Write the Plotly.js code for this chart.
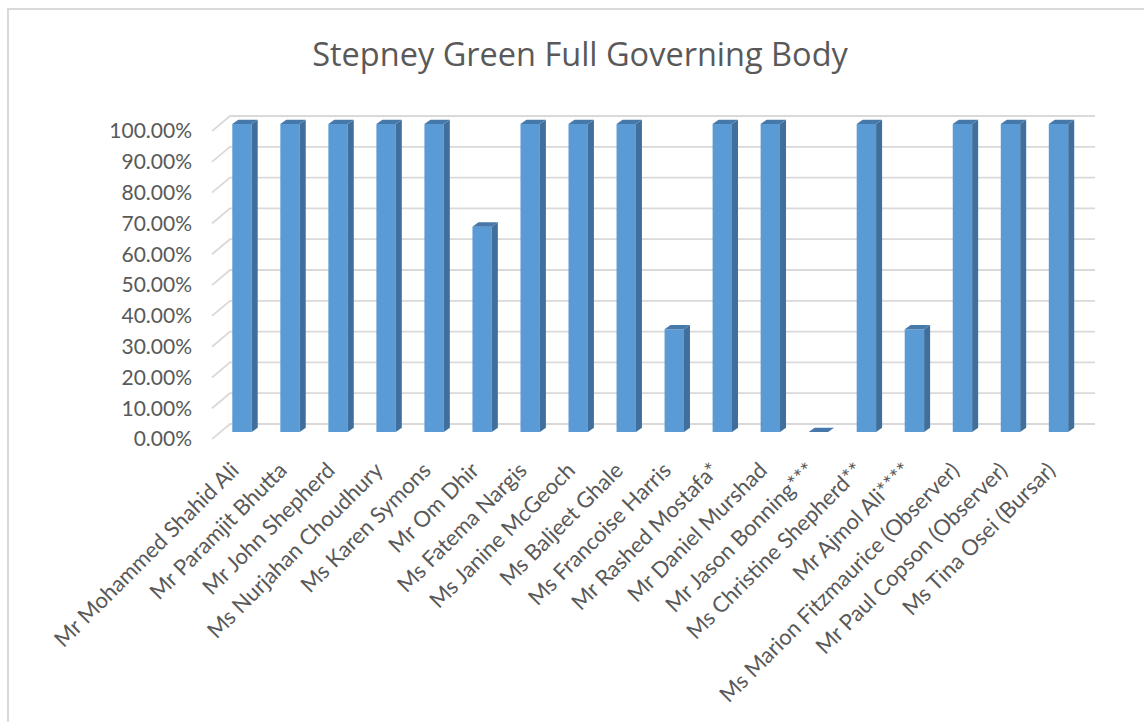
<!DOCTYPE html>
<html>
<head>
<meta charset="utf-8">
<script src="https://cdn.plot.ly/plotly-3.0.1.min.js"></script>
<style>
  html, body { margin: 0; padding: 0; background: #ffffff; }
  #chart { width: 1144px; height: 722px; }
  #frame { position: absolute; left: 7px; top: 8px; width: 2000px; height: 2000px;
           border: 2px solid #D9D9D9; pointer-events: none; }
</style>
</head>
<body>
<div id="chart"></div>
<div id="frame"></div>
<script>
// ---- data ----
const categories = [
  "Mr Mohammed Shahid Ali", "Mr Paramjit Bhutta", "Mr John Shepherd",
  "Ms Nurjahan Choudhury", "Ms Karen Symons", "Mr Om Dhir",
  "Ms Fatema Nargis", "Ms Janine McGeoch", "Ms Baljeet Ghale",
  "Ms Francoise Harris", "Mr Rashed Mostafa*", "Mr Daniel Murshad",
  "Mr Jason Bonning***", "Ms Christine Shepherd**", "Mr Ajmol Ali****",
  "Ms Marion Fitzmaurice (Observer)", "Mr Paul Copson (Observer)", "Ms Tina Osei (Bursar)"
];
const attendance = [100, 100, 100, 100, 100, 66.67, 100, 100, 100, 33.33,
                    100, 100, 0, 100, 33.33, 100, 100, 100];
const yTickValues = [0, 10, 20, 30, 40, 50, 60, 70, 80, 90, 100];
const yTickLabels = ["0.00%", "10.00%", "20.00%", "30.00%", "40.00%", "50.00%",
                     "60.00%", "70.00%", "80.00%", "90.00%", "100.00%"];

// ---- 3D look (in axis units) ----
const BAR_W = 0.404, DEPTH_X = 0.125, DEPTH_Y = 1.4;
const BACK_DY = 2.6, BACK_X0 = -0.25, BACK_X1 = 17.76, FRONT_X = -0.625, LABEL_DY = -2.3;
const XLABEL_SHIFT = -0.2;
const XR = [-0.9786, 17.864], YR = [-6.49, 107.79];

const idx = categories.map((_, i) => i);
const FONT = "Lato, 'Open Sans', sans-serif";
const TITLE_FONT = "'Open Sans', Lato, sans-serif";
const GRAY = "#595959";

// back-wall gridlines + left floor slants
const gx = [], gy = [];
yTickValues.forEach(t => {
  gx.push(FRONT_X, BACK_X0, BACK_X1, null);
  gy.push(t + LABEL_DY, t + BACK_DY, t + BACK_DY, null);
});

// side and top faces
const sx = [], sy = [], tx = [], ty = [];
attendance.forEach((v, i) => {
  const r = i + BAR_W / 2, l = i - BAR_W / 2;
  if (v > 0) {
    sx.push(r, r, r + DEPTH_X, r + DEPTH_X, r, null);
    sy.push(0, v, v + DEPTH_Y, DEPTH_Y, 0, null);
  }
  tx.push(l, r, r + DEPTH_X, l + DEPTH_X, l, null);
  ty.push(v, v, v + DEPTH_Y, v + DEPTH_Y, v, null);
});

const traces = [
  { type: "scatter", mode: "lines", x: gx, y: gy, xaxis: "x", yaxis: "y",
    line: { color: "#D9D9D9", width: 1.8 }, hoverinfo: "skip", showlegend: false },
  { type: "bar", x: idx, y: attendance, width: BAR_W, xaxis: "x2", yaxis: "y2",
    marker: { color: "#5B9BD5", line: { width: 0 } }, showlegend: false },
  { type: "scatter", mode: "lines", x: sx, y: sy, fill: "toself", xaxis: "x2", yaxis: "y2",
    fillcolor: "#3F6F9C", line: { width: 0, color: "#3F6F9C" }, hoverinfo: "skip", showlegend: false },
  { type: "scatter", mode: "lines", x: tx, y: ty, fill: "toself", xaxis: "x2", yaxis: "y2",
    fillcolor: "#4678AA", line: { width: 0, color: "#4678AA" }, hoverinfo: "skip", showlegend: false }
];

const layout = {
  width: 1144, height: 722,
  margin: { l: 195, r: 44, t: 100, b: 270, pad: 0 },
  paper_bgcolor: "#ffffff", plot_bgcolor: "rgba(0,0,0,0)",
  showlegend: false,
  title: { text: "Stepney Green Full Governing Body", font: { family: TITLE_FONT, size: 32.5, color: GRAY },
           xref: "container", yref: "container", x: 0.507, y: 1 - 55 / 722, xanchor: "center", yanchor: "middle" },
  xaxis: { domain: [0, 1], range: XR, showgrid: false, zeroline: false, showticklabels: false,
           showline: false, ticks: "", fixedrange: true },
  yaxis: { domain: [0, 1], range: YR, showgrid: false, zeroline: false, showline: false, ticks: "",
           tickmode: "array", tickvals: yTickValues.map(t => t + LABEL_DY), ticktext: yTickLabels,
           tickfont: { family: FONT, size: 21, color: GRAY }, ticklabelstandoff: 2, fixedrange: true },
  xaxis2: { domain: [0, 1], range: XR, anchor: "y2", showgrid: false, zeroline: false, showline: false,
            ticks: "", tickmode: "array", tickvals: idx.map(i => i + XLABEL_SHIFT), ticktext: categories,
            tickangle: -45, tickfont: { family: FONT, size: 22, color: GRAY }, fixedrange: true },
  yaxis2: { domain: [0, 1], range: YR, anchor: "x2", showgrid: false, zeroline: false,
            showline: false, showticklabels: false, ticks: "", fixedrange: true }
};

Plotly.newPlot("chart", traces, layout, { staticPlot: true });
</script>
</body>
</html>
